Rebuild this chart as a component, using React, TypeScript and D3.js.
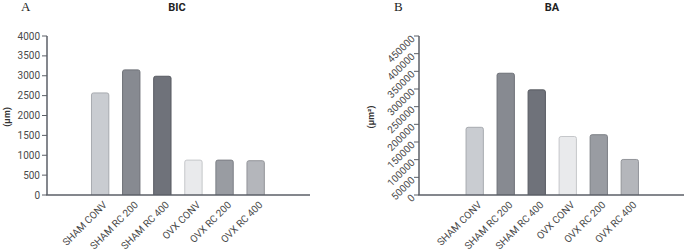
import React from "react";
import * as d3 from "d3";

const categories = ["SHAM CONV", "SHAM RC 200", "SHAM RC 400", "OVX CONV", "OVX RC 200", "OVX RC 400"];
const bicValues = [2580, 3160, 3000, 890, 890, 875];
const baValues = [193000, 346000, 299000, 167000, 172000, 102000];
const bicTicks = [0, 500, 1000, 1500, 2000, 2500, 3000, 3500, 4000];
const baTicks = [0, 50000, 100000, 150000, 200000, 250000, 300000, 350000, 400000, 450000];
const barFills = ["#c9ccd1", "#878a91", "#6f727a", "#e9eaec", "#999ca2", "#b4b6bb"];
const barStrokes = ["#a7aaaf", "#6d7077", "#575a61", "#c5c7ca", "#7c7f85", "#929499"];

const AXIS = "#5b5f67";
const TEXT = "#4a4a4a";
const FONT = "Roboto, 'Liberation Sans', Arial, sans-serif";

function topRounded(x: number, y: number, w: number, h: number, r: number) {
  const p = d3.path();
  p.moveTo(x, y + h);
  p.lineTo(x, y + r);
  p.quadraticCurveTo(x, y, x + r, y);
  p.lineTo(x + w - r, y);
  p.quadraticCurveTo(x + w, y, x + w, y + r);
  p.lineTo(x + w, y + h);
  return p.toString();
}

type PanelProps = {
  letter: string;
  letterX: number;
  title: string;
  titleX: number;
  yTitle: string;
  yTitleX: number;
  axisX: number;
  axisEnd: number;
  bandRange: [number, number];
  values: number[];
  ticks: number[];
  max: number;
  rotateTicks: boolean;
};

function Panel(p: PanelProps) {
  const y0 = 195;
  const y1 = 36;
  const y = d3.scaleLinear().domain([0, p.max]).range([y0, y1]);
  const x = d3
    .scaleBand<string>()
    .domain(categories)
    .range(p.bandRange)
    .paddingInner(0.41)
    .paddingOuter(0.205);
  return (
    <g>
      <text x={p.letterX} y={11} fontFamily="'Liberation Serif', 'DejaVu Serif', serif" fontSize={13} fill="#222">
        {p.letter}
      </text>
      <text x={p.titleX} y={11} textAnchor="middle" fontFamily={FONT} fontWeight="bold" fontSize={11} fill="#222">
        {p.title}
      </text>
      <text
        transform={`translate(${p.yTitleX},117) rotate(-90)`}
        textAnchor="middle"
        fontFamily={FONT}
        fontWeight="bold"
        fontSize={9}
        fill="#333"
      >
        {p.yTitle}
      </text>
      {categories.map((c, i) => {
        const bx = x(c)!;
        const bw = x.bandwidth();
        const by = y(p.values[i]);
        return (
          <path
            key={c}
            d={topRounded(bx + 0.5, by + 0.5, bw - 1, y0 - by - 0.5, 2)}
            fill={barFills[i]}
            stroke={barStrokes[i]}
            strokeWidth={1}
          />
        );
      })}
      <line x1={p.axisX} x2={p.axisX} y1={y1} y2={y0} stroke={AXIS} strokeWidth={1.5} />
      <line x1={p.axisX - 0.75} x2={p.axisEnd} y1={y0} y2={y0} stroke={AXIS} strokeWidth={1.5} />
      {p.ticks.map((t) => (
        <g key={t}>
          <line x1={p.axisX - 5} x2={p.axisX} y1={y(t)} y2={y(t)} stroke={AXIS} strokeWidth={1} />
          {p.rotateTicks ? (
            <text
              transform={`translate(${p.axisX - 6},${y(t) + 1}) rotate(-45)`}
              textAnchor="end"
              dy="0.35em"
              fontFamily={FONT}
              fontSize={10}
              fill={TEXT}
            >
              {t}
            </text>
          ) : (
            <text x={p.axisX - 7} y={y(t)} dy="0.35em" textAnchor="end" fontFamily={FONT} fontSize={10} fill={TEXT}>
              {t}
            </text>
          )}
        </g>
      ))}
      {categories.map((c) => {
        const cx = x(c)! + x.bandwidth() / 2;
        return (
          <text
            key={c}
            transform={`translate(${cx + 5},${y0 + 8}) rotate(-45)`}
            textAnchor="end"
            dy="0.35em"
            fontFamily={FONT}
            fontSize={10}
            fill={TEXT}
          >
            {c}
          </text>
        );
      })}
    </g>
  );
}

export default function App() {
  return (
    <svg
      width={685}
      height={252}
      style={{ position: "absolute", left: 0, top: 0, background: "#fff" }}
    >
      <Panel
        letter="A"
        letterX={21}
        title="BIC"
        titleX={177}
        yTitle="(µm)"
        yTitleX={10}
        axisX={47}
        axisEnd={310}
        bandRange={[84.6, 271.2]}
        values={bicValues}
        ticks={bicTicks}
        max={4000}
        rotateTicks={false}
      />
      <Panel
        letter="B"
        letterX={394}
        title="BA"
        titleX={552}
        yTitle="(µm²)"
        yTitleX={374}
        axisX={419}
        axisEnd={684}
        bandRange={[459.2, 645.3]}
        values={baValues}
        ticks={baTicks}
        max={450000}
        rotateTicks={true}
      />
    </svg>
  );
}
